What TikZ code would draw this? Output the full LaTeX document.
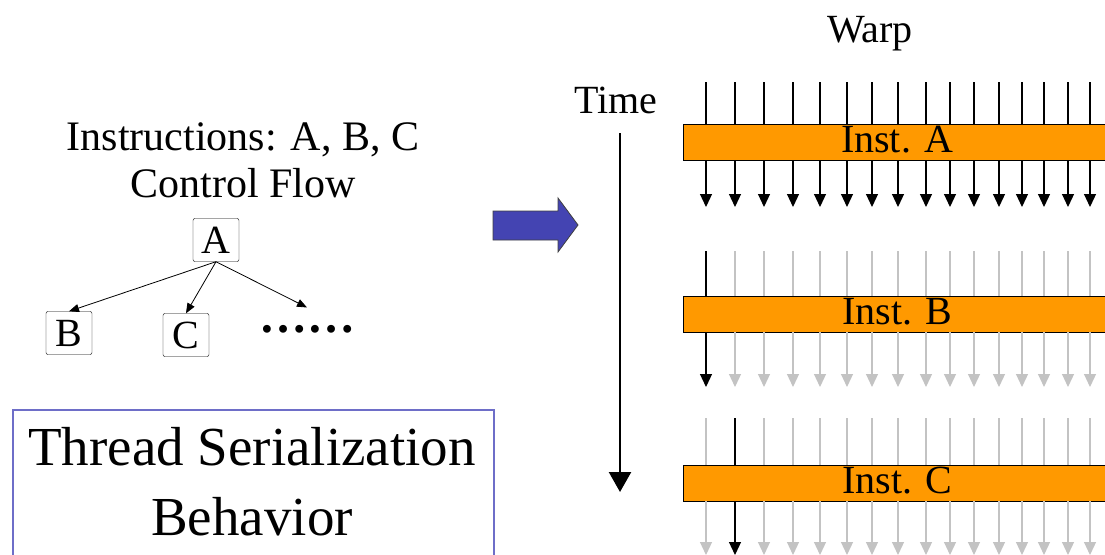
\documentclass[tikz,border=0pt]{standalone}
\usepackage{fontspec}
\setmainfont{Liberation Serif}
\usetikzlibrary{arrows.meta,positioning}

\definecolor{instorange}{RGB}{255,153,0}
\definecolor{idlegray}{RGB}{195,195,195}
\definecolor{shiftblue}{RGB}{68,68,178}
\definecolor{framecol}{RGB}{110,110,200}

\begin{document}
\begin{tikzpicture}[x=1pt,y=-1pt,>={Triangle[width=12pt,length=13pt]},
                    font=\fontsize{42}{50}\selectfont]
  \tikzstyle{cfbox}=[draw,rounded corners=2pt,inner sep=0pt,minimum width=46pt,
                     minimum height=43pt,font=\fontsize{40}{40}\selectfont]
  \tikzstyle{inst}=[draw,fill=instorange,anchor=north west,minimum width=428pt,
                    minimum height=36pt,inner sep=0pt,text height=26pt,text depth=5pt,
                    font=\fontsize{40}{40}\selectfont]
  \tikzstyle{lane}=[line width=1.2pt]
  \tikzstyle{flow}=[->,>={Triangle[width=8pt,length=10pt]},line width=0.8pt]

  \useasboundingbox (0,0) rectangle (1105,554);

  % control flow on the left
  \node[anchor=base] (instr) at (243,150) {Instructions: A, B, C};
  \node[anchor=base] (cflow) at (243,197) {Control Flow};
  \node[cfbox] (A) at (216,240) {A};
  \node[cfbox] (B) at (69,333) {B};
  \node[cfbox] (C) at (186,335) {C};
  \node[anchor=base,text height=21pt,font=\fontsize{48}{48}\selectfont\bfseries]
    (more) at (307,332) {……};

  \path (A.south) edge[flow] (B.north)
                  edge[flow] (C.north)
                  edge[flow] (more.north);

  % frame with title
  \node[draw=framecol,line width=1.5pt,anchor=north west,minimum width=481pt,
        minimum height=170pt] (frame) at (12,409) {};
  \node[anchor=base,font=\fontsize{55}{60}\selectfont] (serial) at (252,465) {Thread Serialization};
  \node[anchor=base,font=\fontsize{55}{60}\selectfont] (behav) at (252,535) {Behavior};

  % big blue arrow
  \filldraw[fill=shiftblue,draw=black!75,line width=0.8pt]
    (493,211) -- (558,211) -- (558,198) -- (578,225) -- (558,252) -- (558,240)
    -- (493,240) -- cycle;

  % time axis
  \node[anchor=base,font=\fontsize{40}{40}\selectfont] (time) at (616,113) {Time};
  \coordinate (t0) at (620,133);
  \coordinate (t1) at (620,492);
  \draw[line width=2.4pt,-{Triangle[width=22pt,length=20pt]}] (t0) -- (t1);

  \node[anchor=base,font=\fontsize{40}{40}\selectfont] (warp) at (870,42) {Warp};

  % the three instructions
  \node[inst] (instA) at (683,124) {Inst. A};
  \node[inst] (instB) at (683,296) {Inst. B};
  \node[inst] (instC) at (683,465) {Inst. C};

  \foreach \x [count=\i] in {706,735,764,793,820,847,872,898,926,950,974,999,1022,1044,1068,1090} {
    \coordinate (a\i) at (\x,82);
    \coordinate (ae\i) at (\x,207);
    \draw[lane] (a\i) -- (a\i |- instA.north);
    \draw[lane,->] (a\i |- instA.south) -- (ae\i);
  }
  \foreach \x [count=\i] in {706,735,764,793,820,847,872,898,926,950,974,999,1022,1044,1068,1090} {
    \ifnum\i=1 \def\lanecol{black}\else\def\lanecol{idlegray}\fi
    \coordinate (b\i) at (\x,251);
    \coordinate (be\i) at (\x,387);
    \draw[lane,draw=\lanecol] (b\i) -- (b\i |- instB.north);
    \draw[lane,draw=\lanecol,->] (b\i |- instB.south) -- (be\i);
  }
  \foreach \x [count=\i] in {706,735,764,793,820,847,872,898,926,950,974,999,1022,1044,1068,1090} {
    \ifnum\i=2 \def\lanecol{black}\else\def\lanecol{idlegray}\fi
    \coordinate (c\i) at (\x,418);
    \coordinate (ce\i) at (\x,555);
    \draw[lane,draw=\lanecol] (c\i) -- (c\i |- instC.north);
    \draw[lane,draw=\lanecol,->] (c\i |- instC.south) -- (ce\i);
  }
\end{tikzpicture}
\end{document}
